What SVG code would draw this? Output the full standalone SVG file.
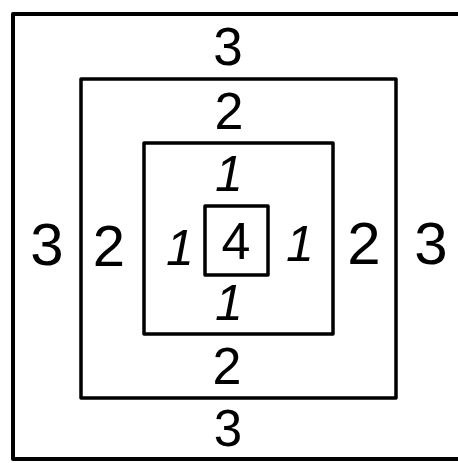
<svg xmlns="http://www.w3.org/2000/svg" width="458" height="463" viewBox="0 0 458 463">
<style>
.box{fill:none;stroke:#000;stroke-linejoin:round}
.n{font-family:"Liberation Sans",Arial,sans-serif;fill:#000;text-anchor:middle}
.one{font-family:"Liberation Sans",Arial,sans-serif;font-style:italic;fill:#000;text-anchor:middle;font-size:50px}
</style>
<rect width="458" height="463" fill="#fff"/>
<g id="outer">
<path class="box" stroke-width="4" d="M462 14 H13 V459 H462"/>
<text class="n" x="228" y="65" font-size="53">3</text>
<text class="n" x="228" y="446" font-size="51">3</text>
<text class="n" x="47" y="265" font-size="60">3</text>
<text class="n" x="431" y="264" font-size="60">3</text>
</g>
<g id="middle">
<rect class="box" stroke-width="3.5" x="81" y="79" width="315" height="319"/>
<text class="n" x="229" y="129" font-size="52">2</text>
<text class="n" x="227" y="384" font-size="52">2</text>
<text class="n" x="109" y="266" font-size="58">2</text>
<text class="n" x="364" y="264" font-size="60">2</text>
</g>
<g id="inner">
<rect class="box" stroke-width="3.5" x="144" y="143" width="189" height="191"/>
<text class="one" x="229" y="191">1</text>
<text class="one" x="180" y="265">1</text>
<text class="one" x="300" y="261">1</text>
<text class="one" x="229" y="320" font-size="48">1</text>
</g>
<g id="center">
<rect class="box" stroke-width="3.5" x="205" y="206" width="63" height="69"/>
<text class="n" x="236" y="259" font-size="52">4</text>
</g>
<g id="connectors"/>
</svg>
